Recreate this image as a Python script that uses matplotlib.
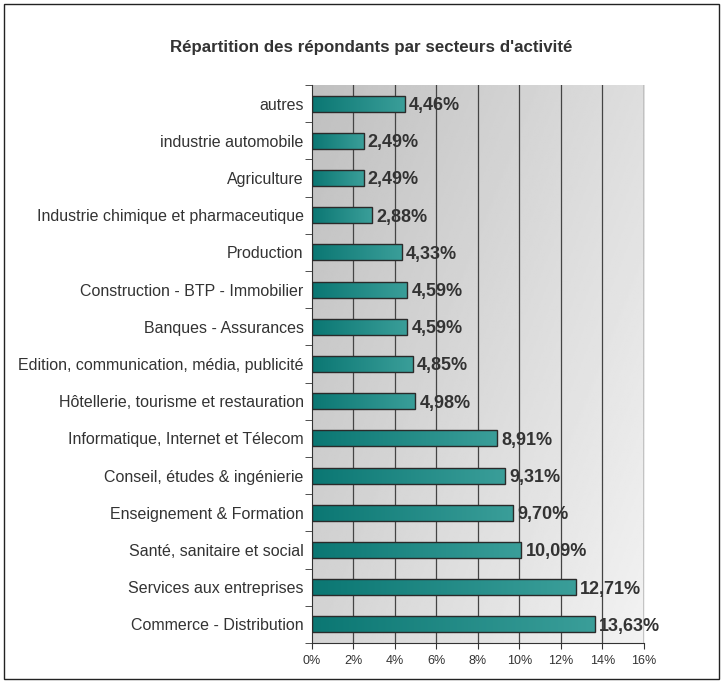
import numpy as np
import matplotlib.pyplot as plt
from matplotlib.patches import Rectangle
from matplotlib.colors import LinearSegmentedColormap

categories = ['Commerce - Distribution', 'Services aux entreprises', 'Santé, sanitaire et social',
              'Enseignement & Formation', 'Conseil, études & ingénierie', 'Informatique, Internet et Télecom',
              'Hôtellerie, tourisme et restauration', 'Edition, communication, média, publicité',
              'Banques - Assurances', 'Construction - BTP - Immobilier', 'Production',
              'Industrie chimique et pharmaceutique', 'Agriculture', 'industrie automobile', 'autres']
values = [13.63, 12.71, 10.09, 9.70, 9.31, 8.91, 4.98, 4.85, 4.59, 4.59, 4.33, 2.88, 2.49, 2.49, 4.46]
xticks = [0, 2, 4, 6, 8, 10, 12, 14, 16]

plt.rcParams['font.family'] = ['Liberation Sans Narrow', 'Liberation Sans', 'DejaVu Sans']
txt = '#333333'

fig = plt.figure(figsize=(7.23, 6.82), dpi=100)
fig.patches.append(Rectangle((0.006, 0.004), 0.988, 0.99, transform=fig.transFigure,
                             fill=False, edgecolor='#222222', lw=1))
ax = fig.add_axes([0.4315, 0.0572, 0.4592, 0.8182])

# fond dégradé gris
gx = np.linspace(0, 1, 200)
GX, GY = np.meshgrid(gx, gx)
grad = 0.75 + 0.12 * GX + 0.08 * GY
ax.imshow(grad, cmap='gray', vmin=0, vmax=1, extent=[0, 16, -0.5, len(values) - 0.5],
          aspect='auto', origin='upper', zorder=0)

for t in xticks[1:-1]:
    ax.axvline(t, color='#444444', lw=0.9, zorder=1)
ax.axvline(16, color='#bbbbbb', lw=1.2, zorder=1)

y = np.arange(len(values))
bars = ax.barh(y, values, height=0.43, color='none', edgecolor='#2a2a2a', lw=1, zorder=3)

# dégradé dans les barres
bar_grad = np.linspace(0, 1, 100).reshape(1, -1)
teal = LinearSegmentedColormap.from_list('teal', ['#0b7773', '#3a9e99'])
for b in bars:
    im = ax.imshow(bar_grad, cmap=teal, extent=[0, b.get_width(), b.get_y(), b.get_y() + b.get_height()],
                   aspect='auto', zorder=2)
    im.set_clip_path(b)

for yi, v in zip(y, values):
    ax.text(v + 0.2, yi - 0.05, f'{v:.2f}%'.replace('.', ','), va='center', ha='left',
            fontsize=13, fontweight='bold', color=txt, zorder=4)

ax.set_xlim(0, 16)
ax.set_ylim(-0.5, len(values) - 0.5)
ax.set_xticks(xticks)
ax.set_xticklabels([f'{t}%' for t in xticks], fontsize=9, color=txt)
ax.set_yticks(y)
ax.set_yticklabels(categories, fontsize=11.5, color=txt)
ax.set_yticks(np.arange(-0.5, len(values), 1), minor=True)
ax.tick_params(axis='y', which='major', length=0, pad=6)
ax.tick_params(axis='y', which='minor', length=5, color='#333333')
ax.tick_params(axis='x', length=4, color='#333333', pad=5)
for s in ['top', 'right']:
    ax.spines[s].set_visible(False)
ax.spines['left'].set_color('#333333')
ax.spines['bottom'].set_color('#333333')

fig.text(0.513, 0.93, "Répartition des répondants par secteurs d'activité", ha='center', va='center',
         fontsize=12.2, fontweight='bold', color=txt, family=['Liberation Sans', 'DejaVu Sans'])

fig.savefig('out.png', dpi=100)
